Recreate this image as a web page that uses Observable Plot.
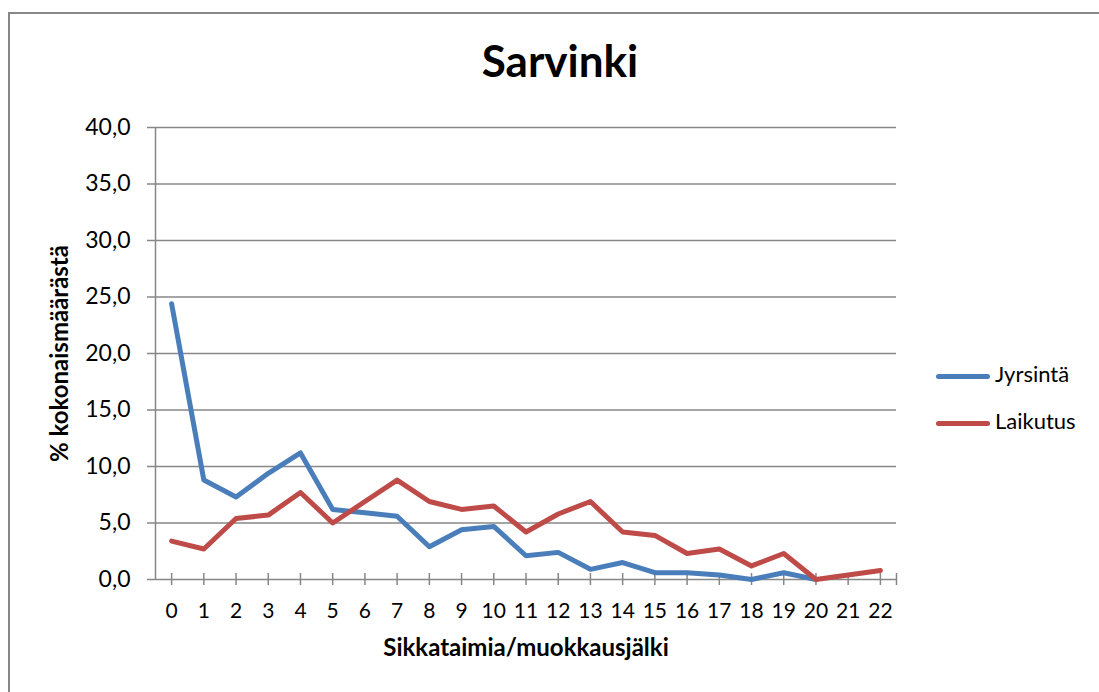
<!DOCTYPE html>
<html><head><meta charset="utf-8">
<script src="https://cdn.jsdelivr.net/npm/d3@7"></script>
<script src="https://cdn.jsdelivr.net/npm/@observablehq/plot@0.6"></script>
<style>
body{margin:0;background:#fff;}
#wrap{position:relative;width:1099px;height:692px;overflow:hidden;font-family:Lato,"Open Sans",sans-serif;background:#fff;}
#border{position:absolute;left:8px;top:12px;width:1110px;height:720px;border:2px solid #878787;box-sizing:border-box;}
#chart{position:absolute;left:0;top:0;}
#title{position:absolute;left:0;width:1120px;top:38px;text-align:center;font-weight:bold;font-size:44px;line-height:1;color:#000;}
.leg{position:absolute;left:936px;font-size:22px;line-height:1;color:#000;white-space:nowrap;}
.leg span.sw{position:absolute;left:0;width:54px;height:5px;border-radius:3px;}
.leg span.tx{position:absolute;left:59px;top:0;}
</style>
</head><body>
<div id="wrap">
  <div id="border"></div>
  <div id="chart"></div>
  <div id="title"></div>
  <div id="legend"></div>
</div>
<script>
const title = "Sarvinki";
const xTitle = "Sikkataimia/muokkausjälki";
const yTitle = "% kokonaismäärästä";
const categories = [0,1,2,3,4,5,6,7,8,9,10,11,12,13,14,15,16,17,18,19,20,21,22];
const jyrsinta = [24.4, 8.8, 7.3, 9.4, 11.2, 6.2, 5.9, 5.6, 2.9, 4.4, 4.7, 2.1, 2.4, 0.9, 1.5, 0.6, 0.6, 0.4, 0.0, 0.6, 0.0, null, null];
const laikutus = [3.4, 2.7, 5.4, 5.7, 7.7, 5.0, 6.9, 8.8, 6.9, 6.2, 6.5, 4.2, 5.8, 6.9, 4.2, 3.9, 2.3, 2.7, 1.2, 2.3, 0.0, 0.4, 0.8];
const seriesNames = ["Jyrsintä", "Laikutus"];
const seriesColors = ["#4a7ebb", "#be4b48"];
const yTicks = [0, 5, 10, 15, 20, 25, 30, 35, 40];

const rows = [];
categories.forEach((c, i) => {
  rows.push({cat: c, value: jyrsinta[i], series: seriesNames[0]});
  rows.push({cat: c, value: laikutus[i], series: seriesNames[1]});
});

const grey = "#878787";
const fmt = d => d.toFixed(1).replace(".", ",");
const xDomain = [categories[0] - 0.5, categories[categories.length - 1] + 0.5];

const chart = Plot.plot({
  width: 1099,
  height: 692,
  marginLeft: 155,
  marginRight: 203,
  marginTop: 127,
  marginBottom: 113,
  style: {fontFamily: "Lato, 'Open Sans', sans-serif", fontSize: "19px", color: "#000", background: "transparent", overflow: "visible"},
  x: {type: "linear", domain: xDomain, axis: null, label: null},
  y: {domain: [yTicks[0], yTicks[yTicks.length - 1]], axis: null, label: null},
  color: {domain: seriesNames, range: seriesColors},
  marks: [
    Plot.ruleY(yTicks.slice(1), {stroke: grey, strokeWidth: 1.5, strokeOpacity: 1}),
    Plot.ruleY([yTicks[0]], {stroke: grey, strokeWidth: 1.5, strokeOpacity: 1}),
    Plot.ruleX([xDomain[0]], {stroke: grey, strokeWidth: 1.5, strokeOpacity: 1}),
    Plot.axisY({ticks: yTicks, label: null, tickSize: 8, tickPadding: 17, tickFormat: fmt, stroke: grey, strokeWidth: 1.5, strokeOpacity: 1, fontSize: 23}),
    Plot.axisX({ticks: [...categories, xDomain[1]], label: null, tickSize: 12, dy: -6, tickFormat: () => "", stroke: grey, strokeWidth: 1.5, strokeOpacity: 1}),
    Plot.axisX({ticks: categories, label: null, tickSize: 0, tickPadding: 24, tickFormat: d => String(d), fontSize: 21}),
    Plot.line(rows, {x: "cat", y: "value", z: "series", stroke: "series", strokeWidth: 5, strokeLinecap: "round", strokeLinejoin: "round"}),
    Plot.text([xTitle], {frameAnchor: "bottom", dy: 76, fontWeight: "bold", fontSize: 24}),
    Plot.text([yTitle], {frameAnchor: "left", textAnchor: "middle", dx: -95, rotate: -90, fontWeight: "bold", fontSize: 24})
  ]
});
document.getElementById("chart").appendChild(chart);
document.getElementById("title").textContent = title;

const legend = document.getElementById("legend");
const legTops = [363, 410];
seriesNames.forEach((name, i) => {
  const item = document.createElement("div");
  item.className = "leg";
  item.style.top = legTops[i] + "px";
  item.innerHTML = `<span class="sw" style="background:${seriesColors[i]};top:11px"></span><span class="tx">${name}</span>`;
  legend.appendChild(item);
});
</script>
</body></html>
